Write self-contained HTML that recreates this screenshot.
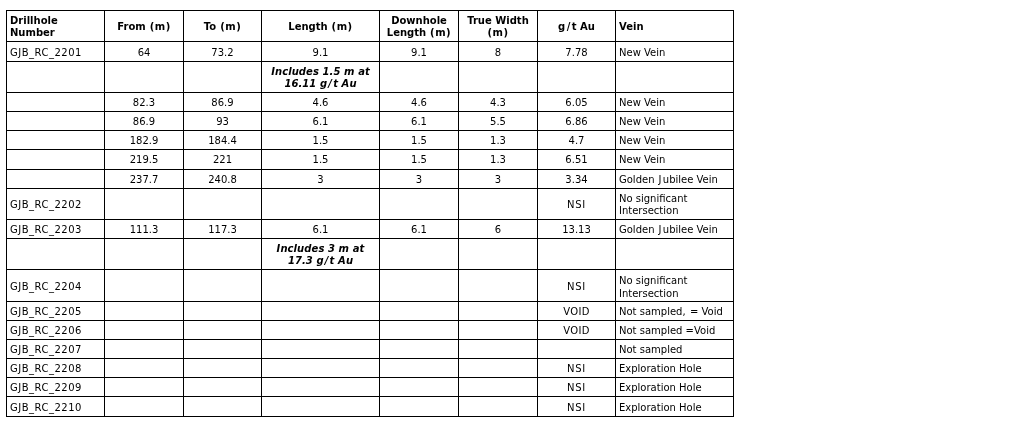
<!DOCTYPE html>
<html><head><meta charset="utf-8">
<style>
html,body{margin:0;padding:0;background:#fff;}
body{width:1033px;height:424px;overflow:hidden;position:relative;}
table{position:absolute;left:6px;top:10px;border-collapse:collapse;table-layout:fixed;width:727px;
 font-family:"DejaVu Sans","Liberation Sans",sans-serif;font-size:10px;color:#000;line-height:12px;}
td{border:1px solid #000;padding:2px 3px 0;vertical-align:middle;text-align:center;overflow:hidden;white-space:nowrap;}
td.l{text-align:left;}
tr.h td{font-weight:bold;}
td.i{font-weight:bold;font-style:italic;letter-spacing:.08px}
.m{letter-spacing:.5px}
.s{letter-spacing:1.5px;margin-right:-1.5px}
td.g{letter-spacing:.5px}
td.n{letter-spacing:.7px}
td.v{letter-spacing:.3px}
.j{display:inline-block}
.j::first-letter{margin-left:.8px;letter-spacing:1.4px}
tr.u td{padding-top:0}
td.i .s{letter-spacing:1.18px;margin-right:-1.1px}
.c{padding-right:1.2px}
</style></head><body>
<table>
<colgroup><col style="width:98px"><col style="width:79px"><col style="width:78px"><col style="width:118px"><col style="width:79px"><col style="width:79px"><col style="width:78px"><col style="width:118px"></colgroup>
<tr class="h" style="height:31px"><td class="l">Drillhole<br>Number</td><td>From<span class="m"> (m)</span></td><td>To<span class="m"> (m)</span></td><td>Length<span class="m"> (m)</span></td><td>Downhole<br>Length<span class="m"> (m)</span></td><td>True Width<br><span class="m">(m)</span></td><td><span class="s">g/t</span> Au</td><td class="l">Vein</td></tr>
<tr style="height:20px"><td class="l g">GJB_RC_2201</td><td>64</td><td>73.2</td><td>9.1</td><td>9.1</td><td>8</td><td>7.78</td><td class="l">New Vein</td></tr>
<tr style="height:31px"><td></td><td></td><td></td><td class="i">Includes 1.5 m at<br>16.11 <span class="s">g/t</span> Au</td><td></td><td></td><td></td><td></td></tr>
<tr style="height:19px"><td></td><td>82.3</td><td>86.9</td><td>4.6</td><td>4.6</td><td>4.3</td><td>6.05</td><td class="l">New Vein</td></tr>
<tr style="height:19px"><td></td><td>86.9</td><td>93</td><td>6.1</td><td>6.1</td><td>5.5</td><td>6.86</td><td class="l">New Vein</td></tr>
<tr style="height:19px"><td></td><td>182.9</td><td>184.4</td><td>1.5</td><td>1.5</td><td>1.3</td><td>4.7</td><td class="l">New Vein</td></tr>
<tr class="u" style="height:20px"><td></td><td>219.5</td><td>221</td><td>1.5</td><td>1.5</td><td>1.3</td><td>6.51</td><td class="l">New Vein</td></tr>
<tr style="height:19px"><td></td><td>237.7</td><td>240.8</td><td>3</td><td>3</td><td>3</td><td>3.34</td><td class="l">Golden <span class="j">Jubilee</span> Vein</td></tr>
<tr style="height:31px"><td class="l g">GJB_RC_2202</td><td></td><td></td><td></td><td></td><td></td><td class="n">NSI</td><td class="l">No significant<br>Intersection</td></tr>
<tr style="height:19px"><td class="l g">GJB_RC_2203</td><td>111.3</td><td>117.3</td><td>6.1</td><td>6.1</td><td>6</td><td>13.13</td><td class="l">Golden <span class="j">Jubilee</span> Vein</td></tr>
<tr style="height:31px"><td></td><td></td><td></td><td class="i">Includes 3 m at<br>17.3 <span class="s">g/t</span> Au</td><td></td><td></td><td></td><td></td></tr>
<tr style="height:32px"><td class="l g">GJB_RC_2204</td><td></td><td></td><td></td><td></td><td></td><td class="n">NSI</td><td class="l" style="line-height:13px">No significant<br>Intersection</td></tr>
<tr style="height:19px"><td class="l g">GJB_RC_2205</td><td></td><td></td><td></td><td></td><td></td><td class="v">VOID</td><td class="l">Not sampled<span class="c">,</span> = Void</td></tr>
<tr style="height:19px"><td class="l g">GJB_RC_2206</td><td></td><td></td><td></td><td></td><td></td><td class="v">VOID</td><td class="l">Not sampled =Void</td></tr>
<tr style="height:19px"><td class="l g">GJB_RC_2207</td><td></td><td></td><td></td><td></td><td></td><td></td><td class="l">Not sampled</td></tr>
<tr style="height:19px"><td class="l g">GJB_RC_2208</td><td></td><td></td><td></td><td></td><td></td><td class="n">NSI</td><td class="l">Exploration Hole</td></tr>
<tr style="height:19px"><td class="l g">GJB_RC_2209</td><td></td><td></td><td></td><td></td><td></td><td class="n">NSI</td><td class="l">Exploration Hole</td></tr>
<tr style="height:20px"><td class="l g">GJB_RC_2210</td><td></td><td></td><td></td><td></td><td></td><td class="n">NSI</td><td class="l">Exploration Hole</td></tr>
</table>
</body></html>
